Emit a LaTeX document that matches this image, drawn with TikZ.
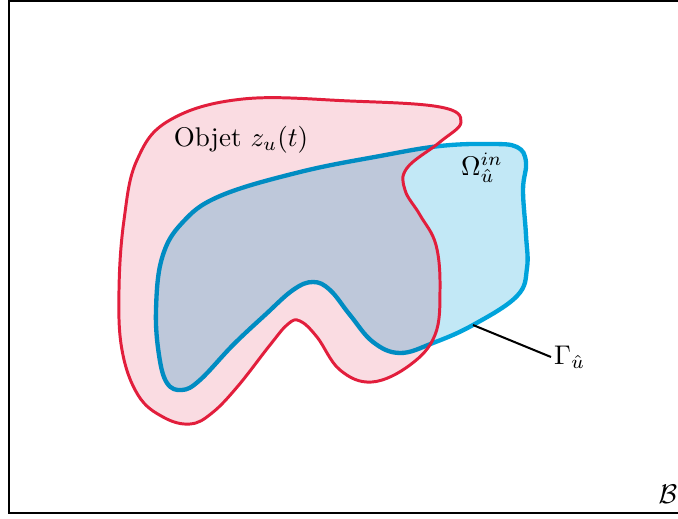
\documentclass[tikz,border=0pt]{standalone}
\usepackage{amsmath}
\definecolor{redline}{RGB}{226,30,60}
\definecolor{pinkfill}{RGB}{250,220,226}
\definecolor{blueline}{RGB}{0,163,219}
\definecolor{bluefill}{RGB}{194,232,246}
\tikzset{
  objline/.style={draw=redline, line width=1.1pt},
  domline/.style={draw=blueline, line width=1.6pt, fill=bluefill},
  leader/.style={draw=black, line width=0.75pt},
  frameline/.style={draw=black, line width=1.1pt},
  lab/.style={inner sep=1pt}
}
\newcommand{\objpts}{(243,99) (350,101) (440,107) (461,122) (440,142) (407,168) (405,190)
 (420,215) (436,245) (440,290) (435,335) (410,365) (372,382) (340,370)
 (317,337) (300,321) (288,324) (270,345) (238,386) (212,413) (190,424) (163,417)
 (138,395) (122,350) (119,290) (124,220) (137,160) (170,120)}
\begin{document}
\begin{tikzpicture}[x=0.37pt,y=-0.37pt]
\useasboundingbox (0,0) rectangle (678,519);
\draw[frameline] (9,0.8) rectangle (720,513);
% blue domain
\draw[domline] plot[smooth cycle, tension=0.65] coordinates {
 (440,146) (490,144) (517,147) (526,162) (523,190) (526,235) (527,268)
 (517,296) (473,325) (433,343) (400,353) (373,342) (350,315)
 (330,290) (313,282) (293,290) (265,315) (233,345) (200,380) (182,390)
 (167,383) (159,355) (156,310) (162,258) (182,223) (220,196) (300,172) (380,156)};
% object fill (multiply)
\begin{scope}[blend mode=multiply]
\fill[pinkfill] plot[smooth cycle, tension=0.65] coordinates {\objpts};
\end{scope}
\draw[objline] plot[smooth cycle, tension=0.65] coordinates {\objpts};
% labels
\node[lab] (obj) at (241,140) {Objet $z_u(t)$};
\node[lab] (omega) at (482,168) {$\Omega^{in}_{\hat u}$};
\node[lab, anchor=west] (gamma) at (551,357) {$\Gamma_{\hat u}$};
\node[lab] (bb) at (668,494) {$\mathcal{B}$};
\coordinate (gpt) at (473,325);
\draw[leader] (gpt) -- (gamma.west);
\end{tikzpicture}
\end{document}
